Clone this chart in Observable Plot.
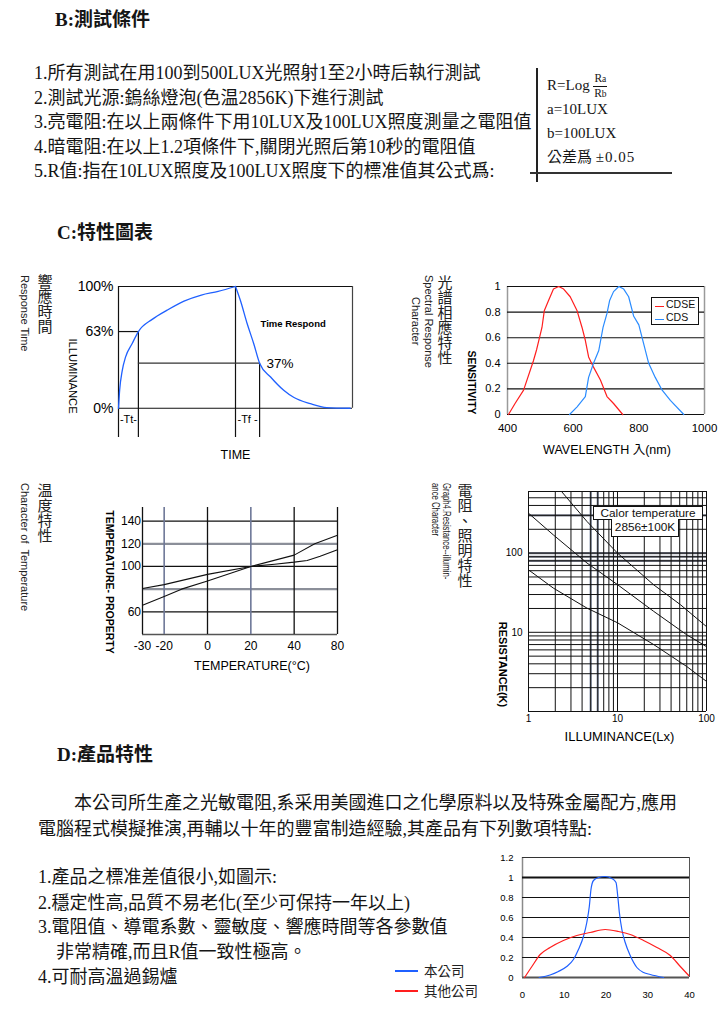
<!DOCTYPE html>
<html><head><meta charset="utf-8">
<script src="https://cdn.jsdelivr.net/npm/d3@7"></script>
<script src="https://cdn.jsdelivr.net/npm/@observablehq/plot@0.6"></script>
<style>
html,body{margin:0;padding:0;background:#fff;}
#page{position:relative;width:725px;height:1010px;overflow:hidden;font-family:"Liberation Serif","Noto Sans CJK TC",serif;color:#151515;}
.t{position:absolute;white-space:nowrap;}
.body{font-size:18px;line-height:24px;}
.head{font-size:19px;font-weight:bold;line-height:24px;}
.vcjk{position:absolute;writing-mode:vertical-rl;font-family:"Noto Sans CJK TC",sans-serif;font-size:15px;line-height:15px;white-space:nowrap;color:#222;}
.vlat{position:absolute;writing-mode:vertical-rl;font-family:"Liberation Sans",Arial,sans-serif;font-size:11px;line-height:12px;white-space:nowrap;color:#222;}
.leg{position:absolute;font-family:"Liberation Sans",Arial,sans-serif;font-size:10.5px;color:#111;}
</style></head>
<body><div id="page"></div>
<script>
// ---------------- data ----------------
// Response time chart (time in arbitrary units, level in %)
const riseTime  = [0, 0.5, 1.6, 3, 5.8, 8.5, 14.4, 20.8, 28, 35.4, 42.6, 50];
const riseLevel = [0, 15, 31, 42, 53, 63, 73, 80.6, 88, 93, 96, 100];
const fallTime  = [50, 52.1, 55, 57.8, 60.3, 65, 70.6, 75, 82, 89, 99];
const fallLevel = [100, 88.5, 69.4, 53, 37, 25.7, 14.8, 8.8, 3.8, 0.6, 0];
const levelTicks = [0, 63, 100];
const riseMark = 63, fallMark = 37;
const lightOn = 0, lightOff = 50, timeEnd = 100, riseT = 8.5, fallT = 60.3, bracketLow = -24;
const bracketLabels = ["-Tt-", "-Tf -"];

// Spectral response
const waveTicks = [400, 600, 800, 1000];
const sensTicks = [0, 0.2, 0.4, 0.6, 0.8, 1];
const cdseWave = [403, 423, 449, 479, 489, 505, 512, 525, 540, 556, 571, 591, 612, 627, 637, 647, 662, 683, 703, 723, 751];
const cdseSens = [0, 0.086, 0.19, 0.42, 0.51, 0.68, 0.81, 0.89, 0.98, 1.0, 0.98, 0.92, 0.81, 0.68, 0.58, 0.45, 0.37, 0.27, 0.14, 0.086, 0];
const cdsWave = [589, 612, 637, 647, 662, 678, 691, 703, 711, 723, 739, 754, 769, 784, 800, 815, 830, 850, 871, 896, 937];
const cdsSens = [0, 0.06, 0.14, 0.29, 0.40, 0.50, 0.68, 0.79, 0.89, 0.96, 1.0, 0.98, 0.92, 0.77, 0.70, 0.55, 0.40, 0.29, 0.19, 0.11, 0];
const spectralNames = ["CDSE", "CDS"];

// Temperature characteristic
const tempTicks = [-30, -20, 0, 20, 40, 60];
const tempTickLabels = ["-30", "-20", "0", "20", "40", "80"];
const propTicks = [60, 100, 120, 140];
const propGridDark = [60, 100, 140];
const propGridGray = [80, 120];
const tempGridDark = [-30, 0, 40, 60];
const tempGridGray = [-20, 20];
const tempAx = [-30, -20, -12, 0, 20, 40, 49.5, 60];
const tempAy = [65.7, 73.5, 80, 87.2, 100, 110, 120, 127.6];
const tempBx = [-30, -20, 0, 20, 31, 40, 46, 52, 60];
const tempBy = [80.5, 84, 93, 100, 102, 103.8, 105.3, 109, 114.7];

// Resistance vs illuminance (log-log)
const luxTicks = [1, 10, 100];
const resTicks = [10, 100];
const luxGrid = [1, 2, 3, 4, 5, 6, 7, 8, 9, 10, 20, 30, 40, 50, 60, 70, 80, 90, 100];
const resGrid = [1, 2, 3, 4, 5, 6, 7, 8, 9, 10, 20, 30, 40, 50, 60, 70, 80, 90, 100, 200, 300, 400, 500, 600];
const luxGridGray = [5, 6];
const resGridGray = [80, 90, 100, 300];
const lux1 = [2.35, 4.54, 10, 25.5, 51, 100];
const res1 = [600, 251, 100, 39.8, 22.3, 11.8];
const lux2 = [1, 1.9, 4.54, 10, 25.5, 60, 100];
const res2 = [319, 170, 75, 40, 18.4, 9.3, 6.6];
const lux3 = [1, 1.9, 4.54, 10, 25.5, 60, 100];
const res3 = [61.5, 36.2, 20.2, 13.2, 7.0, 3.7, 2.4];

// Product deviation chart
const devTicksX = [0, 10, 20, 30, 40];
const devTicksY = [0, 0.2, 0.4, 0.6, 0.8, 1, 1.2];
const ourX = [4, 6.6, 8.6, 10.6, 12.2, 13.4, 14.6, 15.4, 16, 16.4, 17, 18.2, 19.8, 21.4, 22.4, 22.8, 23.2, 23.8, 24.6, 25.8, 27.4, 29, 30.6, 33.8];
const ourY = [0, 0.025, 0.06, 0.11, 0.18, 0.28, 0.41, 0.55, 0.71, 0.88, 0.97, 1.0, 1.01, 0.99, 0.95, 0.82, 0.65, 0.48, 0.35, 0.22, 0.10, 0.05, 0.03, 0];
const otherX = [0.5, 2.25, 4.24, 6.6, 9.8, 13, 16.2, 19.8, 23, 25.8, 29, 32.2, 35.4, 37.8, 39.8];
const otherY = [0, 0.11, 0.23, 0.30, 0.37, 0.42, 0.45, 0.48, 0.46, 0.43, 0.37, 0.30, 0.22, 0.11, 0.02];
const devNames = ["本公司", "其他公司"];

// Texts
const headB = "B:測試條件";
const listB = [
  "1.所有測試在用100到500LUX光照射1至2小時后執行測試",
  "2.測試光源:鎢絲燈泡(色温2856K)下進行測試",
  "3.亮電阻:在以上兩條件下用10LUX及100LUX照度測量之電阻值",
  "4.暗電阻:在以上1.2項條件下,關閉光照后第10秒的電阻值",
  "5.R值:指在10LUX照度及100LUX照度下的標准值其公式爲:"
];
const headC = "C:特性圖表";
const headD = "D:產品特性";
const paraD = [
  "本公司所生產之光敏電阻,系采用美國進口之化學原料以及特殊金屬配方,應用",
  "電腦程式模擬推演,再輔以十年的豐富制造經驗,其產品有下列數項特點:"
];
const listD = [
  "1.產品之標准差值很小,如圖示:",
  "2.穩定性高,品質不易老化(至少可保持一年以上)",
  "3.電阻值、導電系數、靈敏度、響應時間等各參數值",
  "非常精確,而且R值一致性極高。",
  "4.可耐高溫過錫爐"
];

// ---------------- helpers ----------------
const page = document.getElementById("page");
function put(el, left, top) {
  el.style.position = "absolute"; el.style.left = left + "px"; el.style.top = top + "px";
  page.appendChild(el); return el;
}
function div(html, cls, left, top, extra) {
  const d = document.createElement("div");
  d.className = cls; d.innerHTML = html;
  if (extra) d.style.cssText += extra;
  return put(d, left, top);
}
const zipXY = (xs, ys) => xs.map((x, i) => ({x, y: ys[i]}));
const baseStyle = {fontFamily: '"Liberation Sans", Arial, sans-serif', fontSize: "11px", color: "#000", background: "transparent", overflow: "visible"};
const blue = "#1f60ff", red = "#ff1e1e", ink = "#111";

// ---------------- page texts ----------------
div(headB, "t head", 55, 8);
listB.forEach((s, i) => div(s, "t body", 34, 61 + i * 24.6));
// formula box
div("", "t", 536, 68, "width:2px;height:114px;background:#222;");
div("", "t", 530, 172, "width:142px;height:2px;background:#333;");
div('R=Log <span style="display:inline-block;vertical-align:middle;text-align:center;font-size:11.5px;line-height:11px;"><span style="display:block;border-bottom:1px solid #111;padding:0 1px 1px">R<span style="font-size:9.5px">a</span></span><span style="display:block;padding-top:1px">R<span style="font-size:9.5px">b</span></span></span>', "t", 547, 73, "font-size:15px;line-height:20px;");
div("a=10LUX", "t", 547, 100, "font-size:15px;line-height:18px;");
div("b=100LUX", "t", 547, 124, "font-size:15px;line-height:18px;");
div('公差爲 <span style="letter-spacing:1px">±0.05</span>', "t", 547, 147, "font-size:15px;line-height:20px;");

div(headC, "t head", 57, 221);
div(headD, "t head", 57, 743);
div(paraD[0], "t body", 74, 791);
div(paraD[1], "t body", 38, 817);
[865, 891, 915, 940, 965].forEach((top, i) => div(listD[i], "t body", i === 3 ? 56 : 38, top));

// vertical chart titles
div("響應時間", "vcjk", 37.5, 274);
div("Response Time", "vlat", 19, 275);
div("光譜相應特性", "vcjk", 437.5, 275);
div("Spectral Response<br>Character", "vlat", 408.5, 275, "height:92px;text-align:center;line-height:13px;");
div("温度特性", "vcjk", 37.5, 483);
div("Character of&nbsp; Temperature", "vlat", 19, 483);
div("電阻、照明特性", "vcjk", 457.5, 483);
div("Graph4.Resistance--illumin-<br>ance Character", "vlat", 429.5, 483, "line-height:11px;font-size:10.5px;transform:scaleY(0.74);transform-origin:top;");

// ---------------- chart 1: response time ----------------
const rise = zipXY(riseTime, riseLevel), fall = zipXY(fallTime, fallLevel);
put(Plot.plot({
  width: 380, height: 210, marginLeft: 118, marginRight: 28, marginTop: 26, marginBottom: 33,
  style: baseStyle,
  x: {domain: [lightOn, timeEnd], axis: null},
  y: {domain: [bracketLow, 100]},
  marks: [
    Plot.ruleY([0, 100], {x1: lightOn, x2: timeEnd, stroke: ink, strokeWidth: 1.2}),
    Plot.ruleX([timeEnd], {y1: 0, y2: 100, stroke: "#444", strokeWidth: 1.2}),
    Plot.ruleX([lightOn, lightOff], {y1: bracketLow, y2: 100, stroke: ink, strokeWidth: 1.2}),
    Plot.ruleX([riseT], {y1: bracketLow, y2: riseMark, stroke: ink, strokeWidth: 1.2}),
    Plot.ruleX([fallT], {y1: bracketLow, y2: fallMark, stroke: ink, strokeWidth: 1.2}),
    Plot.ruleY([riseMark], {x1: lightOn, x2: riseT, stroke: ink, strokeWidth: 1.2}),
    Plot.ruleY([fallMark], {x1: riseT, x2: fallT, stroke: "#333", strokeWidth: 1.3}),
    Plot.line(rise, {x: "x", y: "y", stroke: blue, strokeWidth: 1.3, curve: "monotone-x"}),
    Plot.line(fall, {x: "x", y: "y", stroke: blue, strokeWidth: 1.3, curve: "monotone-x"}),
    Plot.axisY({ticks: levelTicks, tickSize: 0, tickPadding: 5, tickFormat: d => d + "%", fontSize: 14, label: null}),
    Plot.text([(lightOn + riseT) / 2, (lightOff + fallT) / 2], {x: d => d, text: (d, i) => bracketLabels[i], frameAnchor: "bottom", dy: -15, fontSize: 11}),
    Plot.text([lightOff], {x: d => d, text: () => "TIME", frameAnchor: "bottom", dy: 21, fontSize: 12.5}),
    Plot.text([fallMark], {x: () => fallT, y: d => d, text: d => d + "%", dx: 7, textAnchor: "start", fontSize: 13.5}),
    Plot.text(["Time Respond"], {text: d => d, frameAnchor: "top-left", dx: 142, dy: 34, textAnchor: "start", fontSize: 9.5, fontWeight: "bold"}),
    Plot.text(["ILLUMINANCE"], {text: d => d, frameAnchor: "left", dx: -46, dy: 14, rotate: 90, textAnchor: "middle", fontSize: 11.2})
  ]
}), 0, 260);

// ---------------- chart 2: spectral response ----------------
const spectral = [
  ...zipXY(cdseWave, cdseSens).map(d => ({...d, s: spectralNames[0]})),
  ...zipXY(cdsWave, cdsSens).map(d => ({...d, s: spectralNames[1]}))
];
put(Plot.plot({
  width: 325, height: 210, marginLeft: 107, marginRight: 21, marginTop: 26, marginBottom: 56,
  style: baseStyle,
  x: {domain: [400, 1000]},
  y: {domain: [0, 1]},
  color: {domain: spectralNames, range: [red, "#2a8cff"]},
  marks: [
    Plot.ruleX([400, 1000], {stroke: "#9a9a9a", strokeWidth: 1.5}),
    Plot.ruleY(sensTicks, {stroke: ink, strokeWidth: 1.1}),
    Plot.line(spectral, {x: "x", y: "y", z: "s", stroke: "s", strokeWidth: 1.2}),
    Plot.axisY({ticks: sensTicks, tickSize: 0, tickPadding: 7, tickFormat: d => String(d), fontSize: 11, label: null}),
    Plot.axisX({ticks: waveTicks, tickSize: 0, tickPadding: 9, fontSize: 11.5, tickFormat: d => String(d), label: null}),
    Plot.text(["SENSITIVITY"], {text: d => d, frameAnchor: "left", dx: -36, dy: 32, rotate: 90, textAnchor: "middle", fontSize: 10.5, fontWeight: "bold"}),
    Plot.text(["WAVELENGTH 入(nm)"], {text: d => d, frameAnchor: "bottom", dx: 1, dy: 39, fontSize: 12.5, fontFamily: '"Liberation Sans", "Noto Sans CJK TC", sans-serif'})
  ]
}), 400, 260);
// legend
const lg = div("", "leg", 651, 297, "width:46px;height:26px;border:1px solid #111;background:#fff;");
lg.innerHTML = spectralNames.map((n, i) =>
  `<div style="position:absolute;left:3px;top:${3 + i * 13}px;width:9px;height:1px;margin-top:5px;background:${i ? "#2a8cff" : red}"></div><div style="position:absolute;left:14px;top:${i * 13}px;line-height:13px">${n}</div>`).join("");

// ---------------- chart 3: temperature ----------------
put(Plot.plot({
  width: 380, height: 210, marginLeft: 142, marginRight: 43, marginTop: 37, marginBottom: 46,
  style: baseStyle,
  x: {domain: [-30, 60]},
  y: {domain: [40, 152]},
  marks: [
    Plot.ruleY([40], {stroke: "#555", strokeWidth: 1.6}),
    Plot.ruleY(propGridGray, {stroke: "#8b8f99", strokeWidth: 2.2}),
    Plot.ruleY(propGridDark, {stroke: ink, strokeWidth: 1.2}),
    Plot.ruleX(tempGridGray, {stroke: "#6e7898", strokeWidth: 1.6}),
    Plot.ruleX(tempGridDark, {stroke: ink, strokeWidth: 1.3}),
    Plot.line(zipXY(tempAx, tempAy), {x: "x", y: "y", stroke: ink, strokeWidth: 1.1}),
    Plot.line(zipXY(tempBx, tempBy), {x: "x", y: "y", stroke: ink, strokeWidth: 1.1}),
    Plot.axisY({ticks: propTicks, tickSize: 0, tickPadding: 1.5, fontSize: 12, tickFormat: d => String(d), label: null}),
    Plot.axisX({ticks: tempTicks, tickSize: 0, tickPadding: 6.5, fontSize: 12, tickFormat: d => tempTickLabels[tempTicks.indexOf(d)], label: null}),
    Plot.text(["TEMPERATURE- PROPERTY"], {text: d => d, frameAnchor: "left", dx: -33, dy: 11, rotate: 90, textAnchor: "middle", fontSize: 10.5, fontWeight: "bold"}),
    Plot.text(["TEMPERATURE(°C)"], {text: d => d, frameAnchor: "bottom", dx: 12, dy: 35, fontSize: 12.5})
  ]
}), 0, 470);

// ---------------- chart 4: resistance vs illuminance ----------------
const resLines = [
  ...zipXY(lux1, res1).map(d => ({...d, k: 1})),
  ...zipXY(lux2, res2).map(d => ({...d, k: 2})),
  ...zipXY(lux3, res3).map(d => ({...d, k: 3}))
];
put(Plot.plot({
  width: 325, height: 290, marginLeft: 128, marginRight: 19, marginTop: 21, marginBottom: 49,
  style: baseStyle,
  x: {type: "log", domain: [1, 100]},
  y: {type: "log", domain: [1, 600]},
  marks: [
    Plot.ruleX(luxGridGray, {stroke: "#9aa3b8", strokeWidth: 2.4}),
    Plot.ruleY(resGridGray, {stroke: "#7c8090", strokeWidth: 2.2}),
    Plot.ruleX(luxGrid, {stroke: ink, strokeWidth: 1}),
    Plot.ruleY(resGrid, {stroke: ink, strokeWidth: 1}),
    Plot.line(resLines, {x: "x", y: "y", z: "k", stroke: ink, strokeWidth: 1}),
    Plot.axisY({ticks: resTicks, tickSize: 0, tickPadding: 6, fontSize: 10, tickFormat: d => String(d), label: null}),
    Plot.axisX({ticks: luxTicks, tickSize: 0, tickPadding: 3.5, fontSize: 10, tickFormat: d => String(d), label: null}),
    Plot.text(["RESISTANCE(K)"], {text: d => d, frameAnchor: "left", dx: -26, dy: 63, rotate: 90, textAnchor: "middle", fontSize: 11, fontWeight: "bold"}),
    Plot.text(["ILLUMINANCE(Lx)"], {text: d => d, frameAnchor: "bottom", dx: 2, dy: 29, fontSize: 13})
  ]
}), 400, 470);
div("Calor temperature", "leg", 593, 505.5, "width:108px;height:12px;border:1px solid #111;background:#fff;font-size:11.8px;line-height:12px;text-align:center;");
div("2856±100K", "leg", 611, 518.5, "width:66px;height:17px;border:1px solid #111;border-top:none;background:#fff;font-size:11.8px;line-height:17px;text-align:center;");

// ---------------- chart 5: deviation ----------------
const dev = [
  ...zipXY(ourX, ourY).map(d => ({...d, s: devNames[0]})),
  ...zipXY(otherX, otherY).map(d => ({...d, s: devNames[1]}))
];
put(Plot.plot({
  width: 245, height: 165, marginLeft: 42, marginRight: 36, marginTop: 12, marginBottom: 33,
  style: baseStyle,
  x: {domain: [0, 40]},
  y: {domain: [0, 1.2]},
  color: {domain: devNames, range: [blue, red]},
  marks: [
    Plot.ruleX([0], {stroke: "#8a8a8a", strokeWidth: 1.5}),
    Plot.ruleX([40], {stroke: "#555", strokeWidth: 1}),
    Plot.ruleY([0.2, 0.4, 0.6, 0.8], {stroke: ink, strokeWidth: 1}),
    Plot.ruleY([1.2], {stroke: "#333", strokeWidth: 1}),
    Plot.ruleY([1], {stroke: ink, strokeWidth: 2}),
    Plot.ruleY([0], {stroke: "#555", strokeWidth: 2}),
    Plot.line(dev, {x: "x", y: "y", z: "s", stroke: "s", strokeWidth: 1.2, curve: "monotone-x"}),
    Plot.axisY({ticks: devTicksY, tickSize: 0, tickPadding: 9, fontSize: 9.5, tickFormat: d => String(d), label: null}),
    Plot.axisX({ticks: devTicksX, tickSize: 0, tickPadding: 14, fontSize: 9.5, tickFormat: d => String(d), label: null})
  ]
}), 480, 845);
// legend (swatches + names in one block)
const devColors = [blue, red];
const devLeg = div("", "t", 395, 960, 'font-family:"Noto Sans CJK TC",sans-serif;font-size:13.5px;line-height:20px;color:#222;');
devLeg.innerHTML = devNames.map((n, i) =>
  `<div style="position:relative;height:20px;padding-left:29px"><span style="position:absolute;left:0;top:10px;width:23px;height:1.5px;background:${devColors[i]}"></span>${n}</div>`).join("");
</script>
</body></html>
